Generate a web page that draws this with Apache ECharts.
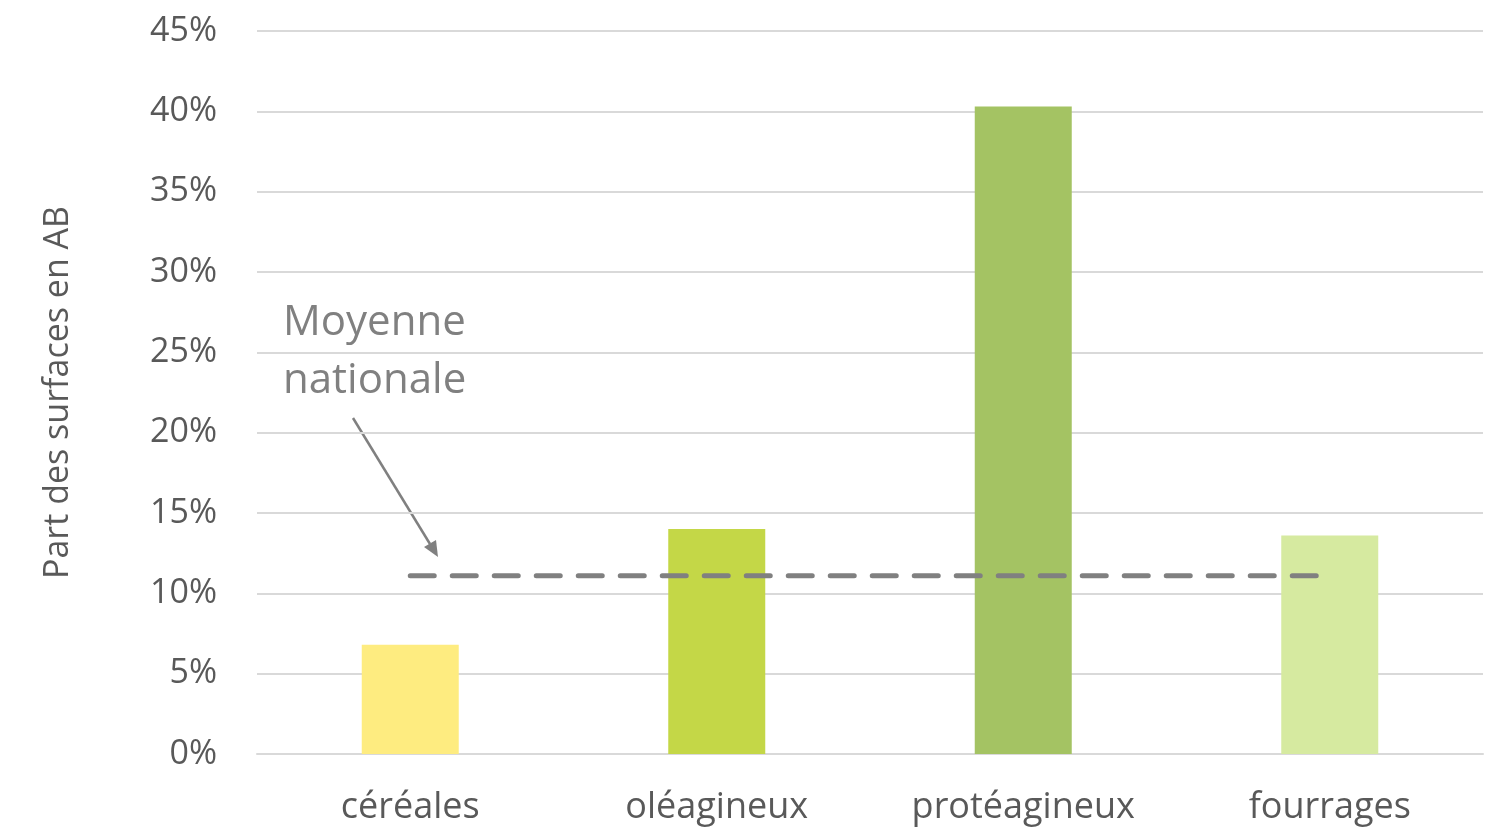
<!DOCTYPE html>
<html>
<head>
<meta charset="utf-8">
<script src="https://cdn.jsdelivr.net/npm/echarts@6/dist/echarts.min.js"></script>
<style>
  html, body { margin: 0; padding: 0; background: #fff; }
  #main { width: 1500px; height: 828px; }
</style>
</head>
<body>
<div id="main"></div>
<script>
// données
var categories = ['céréales', 'oléagineux', 'protéagineux', 'fourrages'];
var partAB = [6.8, 14.0, 40.3, 13.6];
var moyenneNationale = 11.1;
var barColors = ['#FEEC80', '#C4D747', '#A4C363', '#D6EAA0'];

var FONT = '"Open Sans", "Noto Sans", sans-serif';
var $e = echarts.init(document.getElementById('main'));

var option = {
    animation: false,
    grid: { left: 257, right: 17, top: 31, bottom: 74 },
    xAxis: {
        type: 'category',
        data: categories,
        axisTick: { show: false },
        axisLine: { lineStyle: { color: '#d9d9d9', width: 2 } },
        axisLabel: { color: '#595959', fontSize: 36, fontFamily: FONT, margin: 36 }
    },
    yAxis: {
        type: 'value',
        min: 0,
        max: 45,
        interval: 5,
        name: 'Part des surfaces en AB',
        nameLocation: 'middle',
        nameGap: 182,
        nameTextStyle: { color: '#595959', fontSize: 34, fontFamily: FONT },
        axisLabel: {
            color: '#595959', fontSize: 34, fontFamily: FONT, margin: 40,
            padding: [14, 0, 0, 0],
            formatter: function (v) { return v + '%'; }
        },
        splitLine: { lineStyle: { color: '#d9d9d9', width: 2 } }
    },
    series: [{
        type: 'bar',
        barWidth: 97,
        data: partAB.map(function (v, i) {
            return { value: v, itemStyle: { color: barColors[i] } };
        })
    }, {
        type: 'line',
        data: categories.map(function () { return moyenneNationale; }),
        symbol: 'none',
        z: 5,
        lineStyle: { color: '#808080', width: 5, type: [24, 18], cap: 'round' }
    }],
    graphic: [{
        type: 'text',
        left: 283,
        top: 294,
        style: {
            text: 'Moyenne\nnationale',
            fill: '#808080',
            font: '42px ' + FONT,
            lineHeight: 58
        }
    }, {
        type: 'line',
        shape: { x1: 353, y1: 418, x2: 430, y2: 544 },
        style: { stroke: '#808080', lineWidth: 2.5 }
    }, {
        type: 'polygon',
        shape: { points: [[438, 557], [424, 547], [436, 540]] },
        style: { fill: '#808080' }
    }]
};

$e.setOption(option);
window.onresize = function () {
    $e.resize();
};
</script>
</body>
</html>
